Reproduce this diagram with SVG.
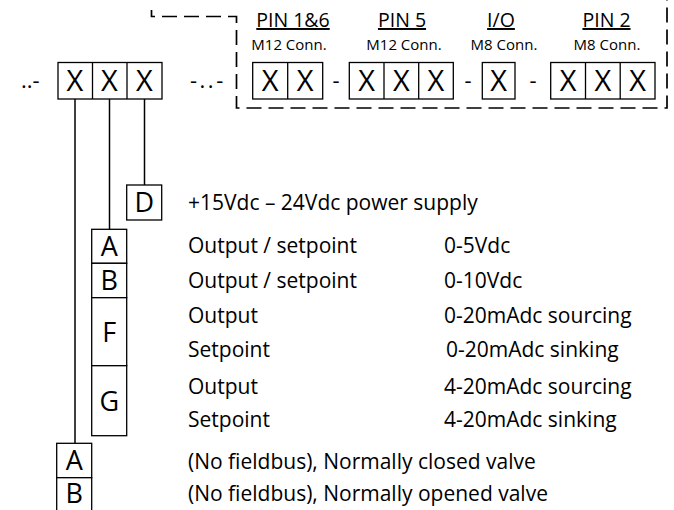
<svg xmlns="http://www.w3.org/2000/svg" width="674" height="510" viewBox="0 0 674 510">
<style>
  text { font-family: "Open Sans", "Liberation Sans", sans-serif; fill: #000; }
  .box { fill: #fff; stroke: #000; stroke-width: 1.3; }
  .div { stroke: #000; stroke-width: 1.3; }
  .x { font-size: 29px; text-anchor: middle; }
  .let { font-size: 27px; text-anchor: middle; }
  .hdr { font-size: 19.5px; text-anchor: middle; text-decoration: underline; }
  .sub { font-size: 15px; text-anchor: middle; }
  .sep { font-size: 22px; }
  .desc { font-size: 21px; }
  .line { stroke: #000; stroke-width: 1.5; fill: none; }
  .dash { stroke: #000; stroke-width: 1.7; fill: none; stroke-dasharray: 15 7; stroke-dashoffset: 5; }
</style>

<g id="connectors">
  <line class="line" x1="75" y1="99" x2="75" y2="443.5"/>
  <line class="line" x1="109.5" y1="99" x2="109.5" y2="229.5"/>
  <line class="line" x1="144.5" y1="99" x2="144.5" y2="185"/>
  <path class="dash" d="M151.5,10 V16.5 H236.5 V108 H667 V0"/>
</g>

<g id="code-prefix">
  <text class="sep" x="21" y="88">..-</text>
  <rect class="box" x="58" y="62.5" width="104" height="36.5"/>
  <line class="div" x1="92.5" y1="62.5" x2="92.5" y2="99"/>
  <line class="div" x1="127" y1="62.5" x2="127" y2="99"/>
  <text class="x" x="75" y="91">X</text>
  <text class="x" x="109.5" y="91">X</text>
  <text class="x" x="144.5" y="91">X</text>
  <text class="sep" x="190" y="88" letter-spacing="2.5">-..-</text>
</g>

<g id="pin16">
  <text class="hdr" x="293" y="27">PIN 1&amp;6</text>
  <text class="sub" x="289" y="50">M12 Conn.</text>
  <rect class="box" x="252.7" y="62.5" width="70" height="36.5"/>
  <line class="div" x1="287.7" y1="62.5" x2="287.7" y2="99"/>
  <text class="x" x="270.2" y="91">X</text>
  <text class="x" x="305.2" y="91">X</text>
</g>

<text class="sep" x="336" y="88" text-anchor="middle">-</text>

<g id="pin5">
  <text class="hdr" x="402" y="27">PIN 5</text>
  <text class="sub" x="404" y="50">M12 Conn.</text>
  <rect class="box" x="349.3" y="62.5" width="104" height="36.5"/>
  <line class="div" x1="384" y1="62.5" x2="384" y2="99"/>
  <line class="div" x1="418.7" y1="62.5" x2="418.7" y2="99"/>
  <text class="x" x="366.6" y="91">X</text>
  <text class="x" x="401.3" y="91">X</text>
  <text class="x" x="436" y="91">X</text>
</g>

<text class="sep" x="468" y="88" text-anchor="middle">-</text>

<g id="io">
  <text class="hdr" x="501" y="27">I/O</text>
  <text class="sub" x="504" y="50">M8 Conn.</text>
  <rect class="box" x="482.3" y="62.5" width="32.7" height="36.5"/>
  <text class="x" x="498.6" y="91">X</text>
</g>

<text class="sep" x="533" y="88" text-anchor="middle">-</text>

<g id="pin2">
  <text class="hdr" x="606.5" y="27">PIN 2</text>
  <text class="sub" x="607" y="50">M8 Conn.</text>
  <rect class="box" x="550.7" y="62.5" width="104.3" height="36.5"/>
  <line class="div" x1="585.5" y1="62.5" x2="585.5" y2="99"/>
  <line class="div" x1="620.2" y1="62.5" x2="620.2" y2="99"/>
  <text class="x" x="568.1" y="91">X</text>
  <text class="x" x="602.8" y="91">X</text>
  <text class="x" x="637.6" y="91">X</text>
</g>

<g id="opt-D">
  <rect class="box" x="126.7" y="185" width="35" height="35"/>
  <text class="let" x="144.2" y="212.3">D</text>
  <text class="desc" x="188" y="210">+15Vdc – 24Vdc power supply</text>
</g>

<g id="opt-A-signal">
  <rect class="box" x="91.7" y="229.3" width="35" height="34"/>
  <text class="let" x="109.2" y="256">A</text>
  <text class="desc" x="188" y="252.7">Output / setpoint</text>
  <text class="desc" x="444" y="252.7">0-5Vdc</text>
</g>

<g id="opt-B-signal">
  <rect class="box" x="91.7" y="263.3" width="35" height="34.4"/>
  <text class="let" x="109.2" y="290.3">B</text>
  <text class="desc" x="188" y="288">Output / setpoint</text>
  <text class="desc" x="444" y="288">0-10Vdc</text>
</g>

<g id="opt-F">
  <rect class="box" x="91.7" y="297.7" width="35" height="68"/>
  <text class="let" x="109.2" y="341.5">F</text>
  <text class="desc" x="188" y="322.7">Output</text>
  <text class="desc" x="444" y="322.7">0-20mAdc sourcing</text>
  <text class="desc" x="188" y="357">Setpoint</text>
  <text class="desc" x="446" y="357">0-20mAdc sinking</text>
</g>

<g id="opt-G">
  <rect class="box" x="91.7" y="365.7" width="35" height="70"/>
  <text class="let" x="109.2" y="410.5">G</text>
  <text class="desc" x="188" y="394">Output</text>
  <text class="desc" x="444" y="394">4-20mAdc sourcing</text>
  <text class="desc" x="188" y="427">Setpoint</text>
  <text class="desc" x="444" y="427">4-20mAdc sinking</text>
</g>

<g id="opt-A-valve">
  <rect class="box" x="56.7" y="443.3" width="35" height="34.4"/>
  <text class="let" x="74.2" y="470.2">A</text>
  <text class="desc" x="188" y="469">(No fieldbus), Normally closed valve</text>
</g>

<g id="opt-B-valve">
  <rect class="box" x="56.7" y="477.7" width="35" height="40"/>
  <text class="let" x="74.2" y="502.5" font-size="25">B</text>
  <text class="desc" x="188" y="501">(No fieldbus), Normally opened valve</text>
</g>
</svg>
